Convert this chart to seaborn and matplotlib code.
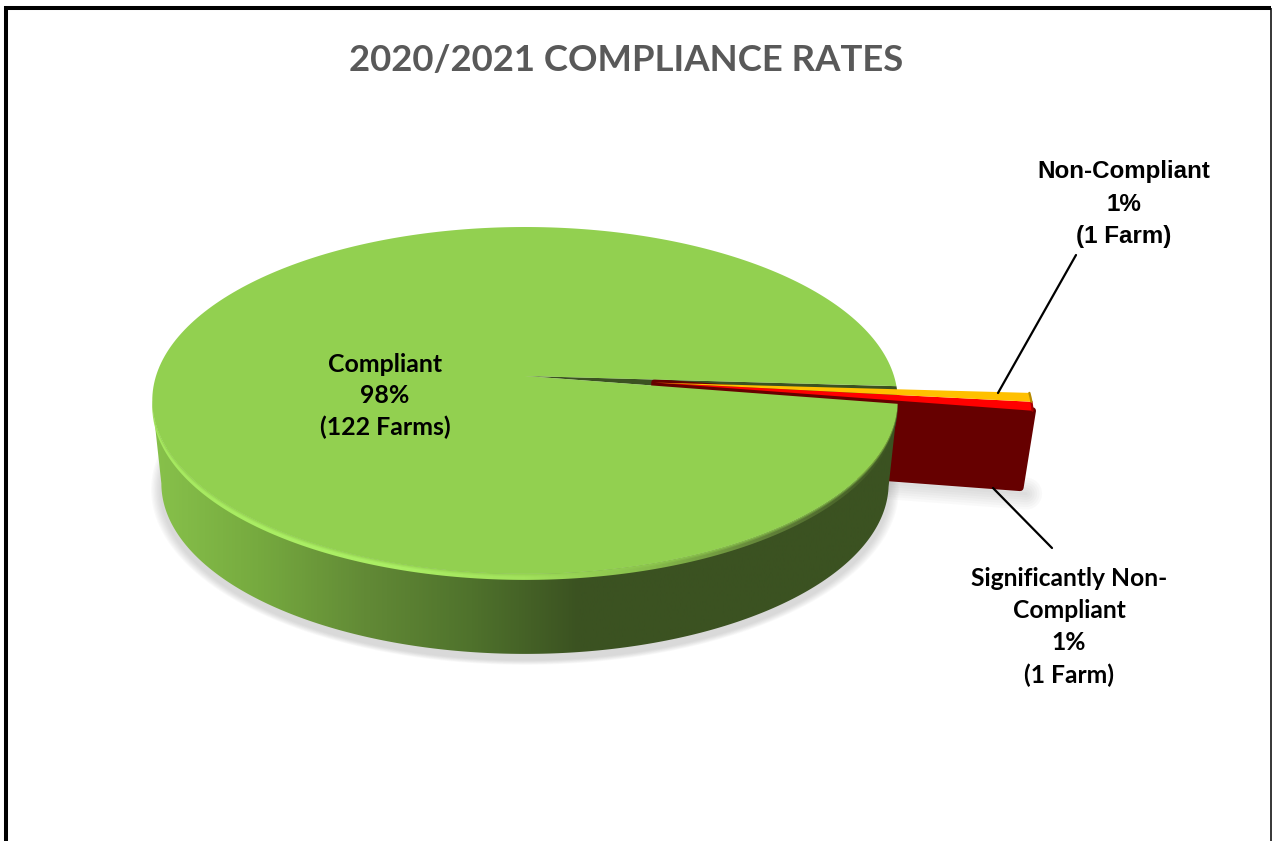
import numpy as np
import matplotlib
matplotlib.use("Agg")
import matplotlib.pyplot as plt
from matplotlib.patches import Polygon
import seaborn as sns

# chart data, order goes counterclockwise from the green slice
categories = ["Compliant", "Significantly Non-\nCompliant", "Non-Compliant"]
farms = [122, 1, 1]
explode = [0, 0.352, 0.352]
colors = ["#92d050", "#ff0000", "#ffc000"]
edge_colors = ["#92d050", "#a80000", "#b88a00"]

title = "2020/2021 COMPLIANCE RATES"

sns.set_theme(style="white")

fig = plt.figure(figsize=(12.72, 8.41), dpi=100)
ax = fig.add_axes([0, 0, 1, 1])

wedges, _ = ax.pie(farms, explode=explode, colors=colors, startangle=-3.4)
for w in wedges:
    w.set_visible(False)

ax.set_aspect("auto")
ax.set_xlim(0, 1272)
ax.set_ylim(841, 0)
ax.axis("off")

# camera: squashes the unit pie into a tilted disc, top face and bottom face
K = 0.141
TOP = dict(cx=525, cy=376, a=369, b=170)
BOTTOM = dict(cx=525, cy=459.5, a=360, b=167)
SLICE_BOTTOM = dict(BOTTOM, cy=BOTTOM["cy"] - 6)
LEFT_EDGE = 180 + np.degrees(np.arcsin(K))


def project(x, y, cx, cy, a, b):
    x, y = np.atleast_1d(x), np.atleast_1d(y)
    d = 1 + K * y
    return np.column_stack([cx + a * x / d, cy - b * y / d])


def wedge_arc(w, t1=None, t2=None):
    t1 = w.theta1 if t1 is None else t1
    t2 = w.theta2 if t2 is None else t2
    t = np.radians(np.linspace(t1, t2, 300))
    return w.center[0] + w.r * np.cos(t), w.center[1] + w.r * np.sin(t)


def wedge_outline(w, face):
    x, y = wedge_arc(w)
    return np.vstack([project(*w.center, **face), project(x, y, **face)])


def gradient_fill(poly, stops, z):
    cmap = sns.blend_palette(stops, n_colors=256, as_cmap=True)
    grad = np.linspace(0, 1, 512).reshape(1, -1)
    im = ax.imshow(grad, cmap=cmap, extent=[150, 900, 700, 200], aspect="auto", zorder=z)
    patch = Polygon(poly, closed=True, transform=ax.transData, fill=False, lw=0)
    ax.add_patch(patch)
    im.set_clip_path(patch)
    ax.set_xlim(0, 1272)
    ax.set_ylim(841, 0)


green, snc, nc = wedges
dark_green = "#3b5221"

# both pulled slices share one apex, so their strips touch
shared = (np.array(snc.center) + np.array(nc.center)) / 2
snc.set_center(tuple(shared))
nc.set_center(tuple(shared))

# soft shadow under the disc and the dropped slice
xs, ys = wedge_arc(green, 0, 360)
shadow = project(xs, ys, **BOTTOM)
for i in range(8):
    grow = 1 + 0.0035 * (8 - i)
    pts = np.column_stack([525 + (shadow[:, 0] - 525) * grow,
                           (shadow[:, 1] - 480) * grow + 480 + 6])
    ax.add_patch(Polygon(pts, closed=True, fc="#7f7f7f", ec="none", alpha=0.04, zorder=1))

sx, sy = snc.center
ox, oy = wedge_arc(snc, snc.theta1, snc.theta1)
drop = project([sx, ox[0]], [sy, oy[0]], **SLICE_BOTTOM)
for i in range(7):
    ax.plot(drop[:, 0] + 6, drop[:, 1] + 6, color="#7f7f7f", lw=2 + 3.5 * i, alpha=0.04,
            solid_capstyle="round", zorder=1)

# dark gap the two slices were pulled out of
gx, gy = wedge_arc(green, green.theta2, green.theta1 + 360)
gap = np.vstack([project(0.0, 0.0, **TOP), project(gx, gy, **TOP)])
ax.add_patch(Polygon(gap, closed=True, fc=dark_green, ec="none", zorder=2))

# cut face of the red slice
face_top = project([sx, ox[0]], [sy, oy[0]], **TOP)
face_bot = project([ox[0], sx], [oy[0], sy], **SLICE_BOTTOM)
ax.add_patch(Polygon(np.vstack([face_top, face_bot]), closed=True, fc="#660000", ec="#660000",
                     lw=5, joinstyle="round", zorder=3))

# outer wall of the disc
wx, wy = wedge_arc(green, LEFT_EDGE, green.theta2)
wall = np.vstack([project(wx, wy, **TOP), project(wx[::-1], wy[::-1], **BOTTOM)])
gradient_fill(wall, ["#88c24b", "#76aa3f", "#628a36", "#4f722c", "#3b5221",
                     dark_green, dark_green, dark_green], 4)


def crescent(shift):
    lower = project(wx, wy, **dict(TOP, cy=TOP["cy"] + shift))
    return np.vstack([lower, project(wx[::-1], wy[::-1], **TOP)])


# bevel: bright on the left of the front rim, fading into the dark on the right
gradient_fill(crescent(6), ["#a6e860", "#aaee64", "#aaee64", "#a2e25c", "#88bd4c",
                            "#607f38", "#3b5221"], 5)
for shift, al in [(2.5, 0.3), (1.2, 0.5)]:
    ax.add_patch(Polygon(crescent(shift), closed=True, fc=colors[0], ec="none", alpha=al, zorder=6))

# top faces
ax.add_patch(Polygon(wedge_outline(green, TOP), closed=True, fc=colors[0], ec="none", zorder=7))
for w, c, e in zip([snc, nc], colors[1:], edge_colors[1:]):
    ax.add_patch(Polygon(wedge_outline(w, TOP), closed=True, fc=c, ec="none", zorder=8))
    rim = project(*wedge_arc(w), **TOP)
    ax.plot(rim[:, 0], rim[:, 1], color=e, lw=1.6, solid_capstyle="round", zorder=8)

# leader lines
ax.plot([1076, 998], [255, 393], color="black", lw=1.6, zorder=9)
ax.plot([993, 1052], [488, 548], color="black", lw=1.6, zorder=9)

# labels
total = sum(farms)


def label(i):
    unit = "Farm" if farms[i] == 1 else "Farms"
    return f"{categories[i]}\n{round(100 * farms[i] / total)}%\n({farms[i]} {unit})"


ax.text(385, 396, label(0), ha="center", va="center", family="Lato", weight="bold",
        fontsize=17.9, color="black", linespacing=1.44, zorder=10)
ax.text(1069, 627, label(1), ha="center", va="center", family="Lato", weight="bold",
        fontsize=17.7, color="black", linespacing=1.485, zorder=10)
ax.text(1124, 204, label(2), ha="center", va="center", family="Liberation Sans", weight="bold",
        fontsize=17.4, color="black", linespacing=1.51, zorder=10)
ax.text(626, 60, title, ha="center", va="center", family="Lato", weight="bold",
        fontsize=26.3, color="#595959", zorder=10)

# chart frame: heavy on the left and top, hairline on the right, cut off at the bottom
ax.plot([6, 6], [6, 841], color="black", lw=2.9, solid_capstyle="butt", zorder=11)
ax.plot([4, 1271], [8, 8], color="black", lw=2.9, solid_capstyle="butt", zorder=11)
ax.plot([1271, 1271], [8, 841], color="black", lw=1.1, solid_capstyle="butt", zorder=11)

fig.savefig("out.png", dpi=100)
